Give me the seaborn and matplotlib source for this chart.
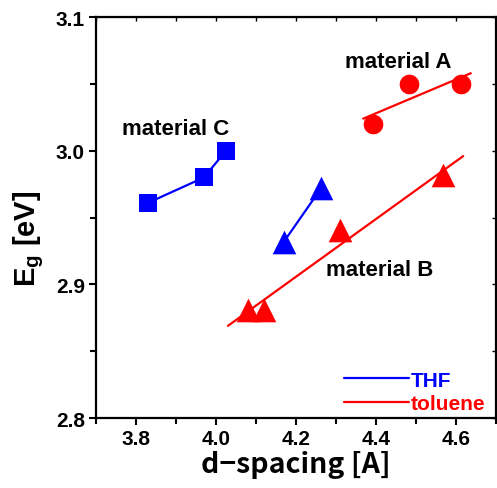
import matplotlib
matplotlib.use("Agg")
import matplotlib.pyplot as plt
from matplotlib.ticker import MultipleLocator
from matplotlib.lines import Line2D
import seaborn as sns

# ---- data ----
c_x = [3.83, 3.97, 4.025]          # material C, THF (squares)
c_y = [2.961, 2.980, 3.000]
bthf_x = [4.17, 4.263]             # material B, THF (triangles)
bthf_y = [2.932, 2.972]
a_x = [4.392, 4.482, 4.612]        # material A, toluene (circles)
a_y = [3.020, 3.050, 3.050]
btol_x = [4.08, 4.12, 4.31, 4.567] # material B, toluene (triangles)
btol_y = [2.881, 2.881, 2.941, 2.982]

# fitted lines (endpoints)
fitA_x = [4.368, 4.637]
fitA_y = [3.024, 3.058]
fitB_x = [4.03, 4.618]
fitB_y = [2.869, 2.996]

x_ticks = [3.8, 4.0, 4.2, 4.4, 4.6]
y_ticks = [2.8, 2.9, 3.0, 3.1]

sns.set_style("white")
plt.rcParams["font.family"] = ["Liberation Sans", "DejaVu Sans"]
plt.rcParams.update({
    "text.color": "black", "axes.labelcolor": "black",
    "xtick.color": "black", "ytick.color": "black",
    "mathtext.fontset": "custom",
    "mathtext.rm": "Liberation Sans:bold",
    "mathtext.bf": "Liberation Sans:bold",
    "mathtext.it": "Liberation Sans:bold",
})

fig = plt.figure(figsize=(4.97, 4.89), dpi=100)
ax = fig.add_axes([0.193, 0.143, 0.805, 0.820])

blue = "#0000ff"
red = "#ff0000"
lw = 1.6

# lines
sns.lineplot(x=c_x, y=c_y, ax=ax, color=blue, lw=lw)
sns.lineplot(x=bthf_x, y=bthf_y, ax=ax, color=blue, lw=lw)
sns.lineplot(x=fitA_x, y=fitA_y, ax=ax, color=red, lw=lw)
sns.lineplot(x=fitB_x, y=fitB_y, ax=ax, color=red, lw=lw)

# markers
sns.scatterplot(x=c_x, y=c_y, ax=ax, color=blue, marker="s", s=160, linewidth=0, zorder=3)
sns.scatterplot(x=bthf_x, y=bthf_y, ax=ax, color=blue, marker="^", s=290, linewidth=0, zorder=3)
sns.scatterplot(x=a_x, y=a_y, ax=ax, color=red, marker="o", s=200, linewidth=0, zorder=3)
sns.scatterplot(x=btol_x, y=btol_y, ax=ax, color=red, marker="^", s=290, linewidth=0, zorder=3)

ax.set_xlim(3.7, 4.7)
ax.set_ylim(2.8, 3.1)
ax.set_xticks(x_ticks)
ax.set_yticks(y_ticks)
ax.xaxis.set_minor_locator(MultipleLocator(0.1))
ax.yaxis.set_minor_locator(MultipleLocator(0.05))
ax.set_xticklabels([f"{v:.1f}" for v in x_ticks], fontsize=15, fontweight="bold")
ax.set_yticklabels([f"{v:.1f}" for v in y_ticks], fontsize=15, fontweight="bold")
ax.tick_params(which="major", direction="out", length=5, width=1.5,
               bottom=True, left=True, top=False, right=False, pad=3, colors="black")
ax.tick_params(which="minor", direction="out", length=4, width=1.5,
               bottom=True, left=True, top=False, right=False, colors="black")

for s in ax.spines.values():
    s.set_linewidth(1.6)
    s.set_color("black")

secx = ax.secondary_xaxis("top")
secx.set_xticks(x_ticks)
secx.xaxis.set_minor_locator(MultipleLocator(0.1))
secx.tick_params(which="both", direction="in", labeltop=False, width=1.0, length=3, colors="black")
secy = ax.secondary_yaxis("right")
secy.set_yticks(y_ticks)
secy.yaxis.set_minor_locator(MultipleLocator(0.05))
secy.tick_params(which="both", direction="in", labelright=False, width=1.0, length=3, colors="black")

ax.set_xlabel("d\u2212spacing [A]", fontsize=20.5,
              family=["Noto Sans CJK JP", "DejaVu Sans"], fontweight="bold", labelpad=1)
ax.set_ylabel(r"E$_\mathregular{g}$ [eV]", fontsize=21, fontweight="bold")
ax.yaxis.set_label_coords(-0.125, 0.45)

ax.text(4.455, 3.067, "material A", fontsize=16, fontweight="bold", ha="center", va="center")
ax.text(3.9, 3.017, "material C", fontsize=16, fontweight="bold", ha="center", va="center")
ax.text(4.41, 2.911, "material B", fontsize=16, fontweight="bold", ha="center", va="center")

handles = [Line2D([], [], color=blue, lw=lw), Line2D([], [], color=red, lw=lw)]
ax.legend(handles, ["THF", "toluene"], loc="lower right", frameon=False,
          labelcolor=[blue, red], prop={"size": 15, "weight": "bold"},
          handlelength=3.1, handletextpad=0.1, labelspacing=0.2,
          borderaxespad=0.0, bbox_to_anchor=(0.995, -0.008))

fig.savefig("out.png", dpi=100)
